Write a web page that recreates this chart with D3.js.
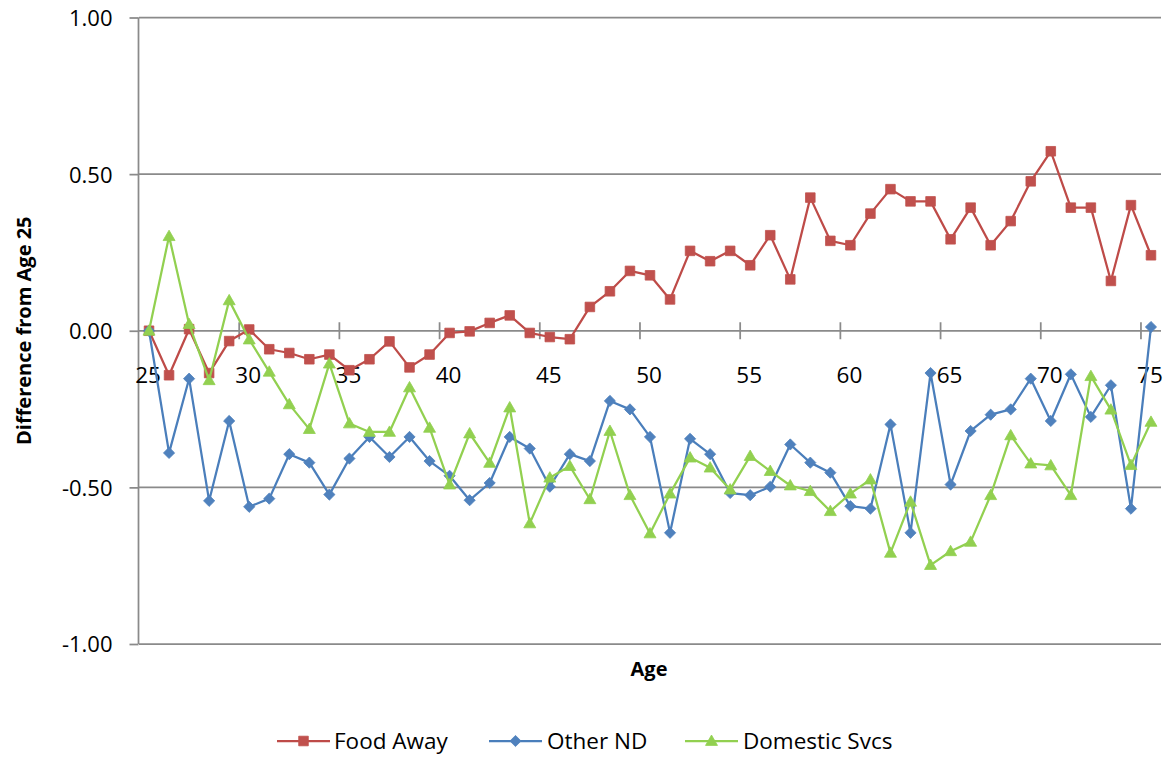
<!DOCTYPE html>
<html>
<head>
<meta charset="utf-8">
<script src="https://cdn.jsdelivr.net/npm/d3@7"></script>
<style>
  html, body { margin: 0; padding: 0; background: #ffffff; }
  svg { display: block; font-family: "Open Sans", Lato, sans-serif; }
</style>
</head>
<body>
<svg id="chart" width="1172" height="758"></svg>
<script>
// Ages on the category axis
const ages = d3.range(25, 76);

// Difference from age 25, one value per age
const foodAway = [
  0.000, -0.142, 0.005, -0.135, -0.033, 0.004, -0.059, -0.071, -0.091, -0.076,
  -0.126, -0.091, -0.034, -0.117, -0.076, -0.007, -0.002, 0.025, 0.049, -0.007,
  -0.020, -0.027, 0.076, 0.126, 0.191, 0.177, 0.100, 0.255, 0.222, 0.255,
  0.209, 0.305, 0.164, 0.425, 0.287, 0.273, 0.374, 0.452, 0.413, 0.413,
  0.292, 0.393, 0.273, 0.350, 0.477, 0.573, 0.393, 0.393, 0.159, 0.401,
  0.241
];
const otherND = [
  0.000, -0.390, -0.153, -0.543, -0.288, -0.562, -0.536, -0.394, -0.421, -0.523,
  -0.408, -0.339, -0.403, -0.339, -0.416, -0.463, -0.541, -0.486, -0.339, -0.376,
  -0.498, -0.394, -0.416, -0.224, -0.251, -0.339, -0.645, -0.345, -0.394, -0.518,
  -0.525, -0.498, -0.363, -0.421, -0.453, -0.560, -0.568, -0.299, -0.645, -0.135,
  -0.491, -0.320, -0.268, -0.251, -0.153, -0.288, -0.139, -0.275, -0.174, -0.568,
  0.012
];
const domesticSvcs = [
  0.000, 0.302, 0.021, -0.158, 0.097, -0.028, -0.131, -0.235, -0.314, -0.105,
  -0.296, -0.323, -0.323, -0.181, -0.310, -0.491, -0.328, -0.422, -0.245, -0.615,
  -0.469, -0.432, -0.538, -0.320, -0.525, -0.647, -0.520, -0.405, -0.437, -0.507,
  -0.400, -0.448, -0.494, -0.512, -0.576, -0.520, -0.475, -0.709, -0.546, -0.748,
  -0.704, -0.674, -0.525, -0.334, -0.424, -0.430, -0.525, -0.145, -0.252, -0.429,
  -0.291
];

const seriesNames = ["Food Away", "Other ND", "Domestic Svcs"];
const yTicks = [-1, -0.5, 0, 0.5, 1];
const xLabelAges = [25, 30, 35, 40, 45, 50, 55, 60, 65, 70, 75];

const series = [
  { name: seriesNames[0], values: foodAway,     line: "#BE4B48", fill: "#C0504D", marker: "square" },
  { name: seriesNames[1], values: otherND,      line: "#4A7EBB", fill: "#4F81BD", marker: "diamond" },
  { name: seriesNames[2], values: domesticSvcs, line: "#92D050", fill: "#92D050", marker: "triangle" }
];

const svg = d3.select("#chart");
const plotLeft = 139, plotRight = 1161, plotTop = 17.5, plotBottom = 644;

const x = d3.scaleBand().domain(ages).range([plotLeft, plotRight]).paddingInner(0).paddingOuter(0);
const y = d3.scaleLinear().domain([-1, 1]).range([plotBottom, plotTop]);
const cx = a => x(a) + x.bandwidth() / 2;

const gridColor = "#8a8a8a";

// horizontal gridlines
svg.append("g")
  .selectAll("line")
  .data(yTicks.filter(d => d !== 0))
  .join("line")
  .attr("x1", plotLeft).attr("x2", plotRight)
  .attr("y1", d => y(d)).attr("y2", d => y(d))
  .attr("stroke", gridColor).attr("stroke-width", 1.75);

// value axis
const yAxis = svg.append("g")
  .attr("transform", `translate(${plotLeft - 0.5},0)`)
  .call(d3.axisLeft(y).tickValues(yTicks).tickFormat(d => d.toFixed(2)).tickSize(9).tickPadding(17));
yAxis.select(".domain").attr("stroke", gridColor).attr("stroke-width", 1.75)
  .attr("d", `M0,${plotTop}V${plotBottom}`);
yAxis.selectAll(".tick line").attr("stroke", gridColor).attr("stroke-width", 1.75);
yAxis.selectAll(".tick text")
  .attr("font-size", 22).attr("fill", "#000").attr("font-family", "'Open Sans', sans-serif")
  .attr("dy", "0.36em");

// category axis along zero
const y0 = y(0);
svg.append("line")
  .attr("x1", plotLeft).attr("x2", plotRight).attr("y1", y0).attr("y2", y0)
  .attr("stroke", gridColor).attr("stroke-width", 1.75);
svg.append("g")
  .selectAll("line")
  .data(ages.filter(a => a > 25 && (a - 25) % 5 === 0))
  .join("line")
  .attr("x1", d => x(d)).attr("x2", d => x(d))
  .attr("y1", y0 - 8.5).attr("y2", y0 + 8.5)
  .attr("stroke", gridColor).attr("stroke-width", 1.75);

svg.append("g")
  .selectAll("text")
  .data(xLabelAges)
  .join("text")
  .attr("x", d => cx(d) - 1)
  .attr("y", y0 + 52.5)
  .attr("text-anchor", "middle")
  .attr("font-size", 22.5)
  .attr("fill", "#000")
  .text(d => d);

// axis titles
svg.append("text")
  .attr("transform", `translate(31,${(plotTop + plotBottom) / 2}) rotate(-90)`)
  .attr("text-anchor", "middle")
  .attr("font-size", 20)
  .attr("font-weight", "bold")
  .attr("fill", "#000")
  .text("Difference from Age 25");

svg.append("text")
  .attr("x", (plotLeft + plotRight) / 2 - 1)
  .attr("y", 676)
  .attr("text-anchor", "middle")
  .attr("font-size", 20)
  .attr("font-weight", "bold")
  .attr("fill", "#000")
  .text("Age");

// marker shapes
const markerPath = {
  square: "M-4.8,-4.8H4.8V4.8H-4.8Z",
  diamond: "M0,-5.6L5.6,0L0,5.6L-5.6,0Z",
  triangle: "M0,-6L6,4.4L-6,4.4Z"
};

const line = d3.line().x(d => cx(d.age)).y(d => y(d.v));

series.forEach(s => {
  const pts = ages.map((a, i) => ({ age: a, v: s.values[i] }));
  const g = svg.append("g");
  g.append("path")
    .datum(pts)
    .attr("d", line)
    .attr("fill", "none")
    .attr("stroke", s.line)
    .attr("stroke-width", 2.25)
    .attr("stroke-linejoin", "round");
  g.selectAll("path.m")
    .data(pts)
    .join("path")
    .attr("class", "m")
    .attr("d", markerPath[s.marker])
    .attr("transform", d => `translate(${cx(d.age)},${y(d.v)})`)
    .attr("fill", s.fill)
    .attr("stroke", s.fill)
    .attr("stroke-width", 0.8);
});

// legend
const legendY = 741;
const legendItems = [
  { x0: 277, tx: 334 },
  { x0: 489, tx: 547 },
  { x0: 685, tx: 743 }
];
const lg = svg.append("g");
series.forEach((s, i) => {
  const it = legendItems[i];
  lg.append("line")
    .attr("x1", it.x0).attr("x2", it.x0 + 53)
    .attr("y1", legendY).attr("y2", legendY)
    .attr("stroke", s.line).attr("stroke-width", 2.25);
  lg.append("path")
    .attr("d", markerPath[s.marker])
    .attr("transform", `translate(${it.x0 + 26.5},${legendY})`)
    .attr("fill", s.fill).attr("stroke", s.fill).attr("stroke-width", 0.8);
  lg.append("text")
    .attr("x", it.tx).attr("y", legendY)
    .attr("dy", "0.36em")
    .attr("font-size", 22.5)
    .attr("fill", "#000")
    .text(s.name);
});
</script>
</body>
</html>
